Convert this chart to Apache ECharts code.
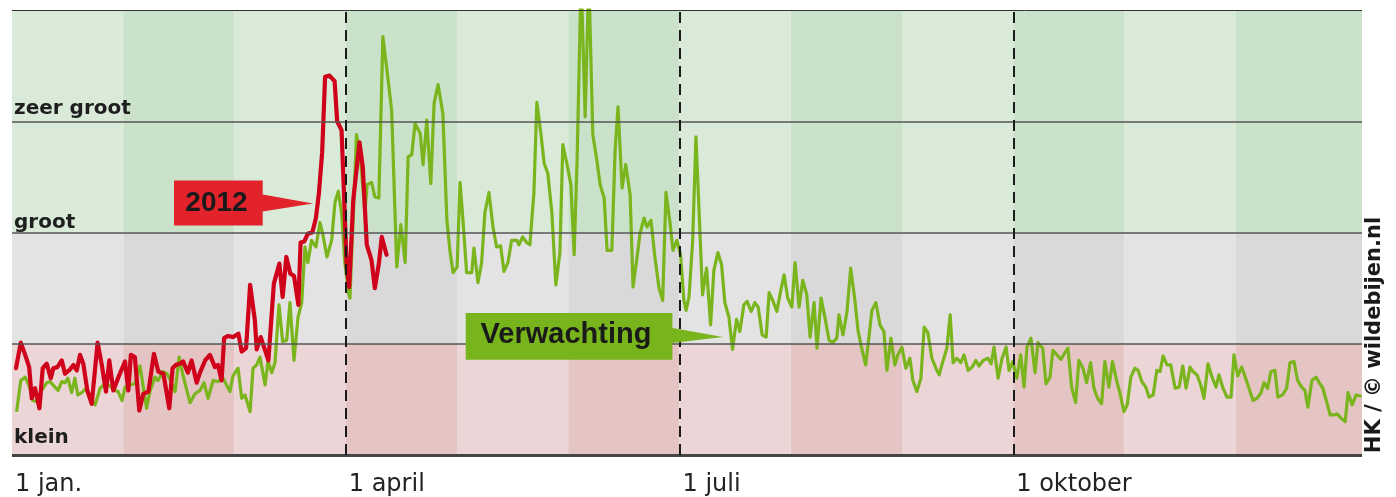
<!DOCTYPE html>
<html><head><meta charset="utf-8">
<script src="https://cdn.jsdelivr.net/npm/echarts@6/dist/echarts.min.js"></script>
<style>html,body{margin:0;padding:0;background:#fff}#c{width:1396px;height:497px}</style>
</head><body><div id="c"></div>
<script>
// ---------- data ----------
const xTickLabels = ['1 jan.', '1 april', '1 juli', '1 oktober'];
const levelLabels = ['klein', '', 'groot', 'zeer groot'];
const seriesNames = ['Verwachting', '2012'];

// Verwachting (expected), day of year -> level (0..4)
const greenDays = [1.3,2.4,3.6,4.6,5.7,6.8,8.1,9.5,10.4,11.2,12.6,13.6,14.5,15.3,16.3,17.2,18.0,19.1,20.2,21.3,22.7,24.1,25.4,26.8,28.2,29.0,30.1,30.9,32.3,33.6,35.0,35.8,36.8,37.7,39.1,39.9,41.3,42.4,43.5,44.6,45.7,46.8,47.8,48.7,50.0,51.4,52.5,53.6,55.0,56.3,57.7,58.8,59.6,60.4,61.8,62.8,63.7,65.1,65.9,66.9,67.8,69.2,70.0,71.0,71.9,73.0,74.0,75.1,76.0,77.1,78.2,79.2,80.1,80.9,81.9,83.1,84.2,85.0,86.1,87.4,88.3,89.2,90.1,91.0,92.0,92.4,94.2,95.3,96.5,97.1,98.3,99.2,100.3,101.4,102.4,103.8,105.2,106.3,107.5,108.3,109.3,110.2,111.6,112.4,113.4,114.5,115.4,116.5,117.8,118.9,119.8,120.6,121.7,122.5,123.3,124.3,125.7,126.3,127.4,128.4,129.3,130.4,131.5,132.5,133.6,134.5,135.6,136.6,138.0,138.6,139.6,140.7,141.6,142.7,143.5,144.6,145.5,146.5,147.6,148.7,149.8,150.6,151.7,152.8,153.7,154.5,155.6,156.7,157.7,158.8,159.9,160.8,161.9,162.7,164.0,164.9,165.7,166.8,167.8,169.0,169.8,170.9,171.7,172.8,173.6,174.7,175.8,176.9,177.9,178.8,179.9,180.7,181.8,182.8,183.7,184.3,185.1,186.1,187.0,188.8,189.9,191.0,191.9,193.0,194.0,194.9,196.0,197.0,198.1,199.0,200.1,201.0,202.1,203.1,204.0,205.1,206.2,207.0,208.1,209.1,210.2,211.1,212.1,213.2,214.1,215.2,216.2,217.3,218.2,219.3,220.1,221.2,222.3,223.4,224.4,225.5,226.1,227.2,228.3,229.3,230.5,231.3,232.3,233.4,234.3,235.1,236.2,237.3,238.4,239.2,240.3,241.4,242.2,243.3,244.4,245.5,246.3,247.4,248.5,249.4,250.4,251.5,252.6,253.5,254.5,255.6,256.5,257.3,258.3,259.4,260.3,261.4,262.5,263.5,264.4,265.5,266.8,267.7,268.5,269.6,270.7,271.8,272.6,273.6,274.7,275.8,276.7,277.5,278.6,279.7,280.5,281.8,282.7,283.8,284.6,285.7,286.8,287.9,288.7,289.7,290.8,291.7,292.8,293.8,294.9,295.8,296.8,297.9,298.8,299.9,300.9,302.0,302.9,304.0,304.9,305.9,307.0,307.9,308.9,310.0,310.9,312.0,313.0,313.9,314.7,315.8,316.8,318.0,319.1,320.1,321.0,322.1,322.9,324.0,325.0,325.9,327.0,328.1,329.2,330.0,331.1,332.2,333.3,334.1,335.1,336.2,337.3,338.2,339.3,340.4,341.5,342.3,343.3,344.2,345.3,346.1,347.4,348.5,349.4,350.5,351.5,352.6,353.5,354.3,355.4,356.5,357.4,358.4,359.5,360.4,361.5,362.3,363.4,364.5,365.3,366.4,367.5,368.6];
const greenVals = [0.40,0.67,0.70,0.63,0.49,0.48,0.58,0.65,0.66,0.63,0.58,0.66,0.65,0.69,0.56,0.69,0.54,0.56,0.60,0.51,0.45,0.60,0.64,0.62,0.58,0.57,0.49,0.61,0.63,0.64,0.80,0.63,0.42,0.57,0.70,0.67,0.75,0.73,0.66,0.57,0.88,0.71,0.58,0.47,0.55,0.58,0.65,0.51,0.67,0.66,0.69,0.62,0.57,0.71,0.78,0.51,0.54,0.39,0.78,0.81,0.88,0.63,0.85,0.74,0.83,1.35,1.02,1.03,1.37,0.85,1.24,1.37,1.87,1.73,1.93,1.87,2.09,1.98,1.78,1.93,2.27,2.37,2.18,1.73,1.46,1.41,2.88,2.65,2.18,2.43,2.45,2.32,2.31,3.76,3.49,3.10,1.69,2.07,1.73,2.68,2.70,2.98,2.89,2.61,3.01,2.44,3.16,3.33,3.07,2.11,1.82,1.64,1.69,2.45,2.11,1.64,1.64,1.86,1.55,1.73,2.18,2.36,2.05,1.87,1.88,1.65,1.73,1.93,1.93,1.89,1.96,1.91,1.89,2.36,3.17,2.89,2.62,2.53,2.18,1.53,1.82,2.79,2.62,2.43,1.80,2.65,4.3,3.04,4.3,2.88,2.65,2.43,2.31,1.84,1.84,2.74,3.13,2.40,2.61,2.34,1.51,1.78,1.99,2.13,2.05,2.11,1.77,1.50,1.39,2.36,2.09,1.84,1.93,1.80,1.39,1.30,1.42,1.93,2.86,1.44,1.68,1.17,1.66,1.82,1.71,1.37,1.24,0.95,1.22,1.11,1.35,1.38,1.29,1.37,1.33,1.08,1.06,1.46,1.38,1.29,1.48,1.62,1.41,1.33,1.73,1.33,1.57,1.44,1.06,1.37,0.96,1.41,1.23,1.03,1.01,1.05,1.26,1.08,1.29,1.68,1.38,1.12,0.96,0.81,1.06,1.30,1.37,1.17,1.11,0.76,1.05,0.81,0.90,0.97,0.78,0.87,0.67,0.57,0.69,1.15,1.10,0.87,0.78,0.72,0.84,0.96,1.26,0.83,0.87,0.83,0.90,0.76,0.79,0.85,0.80,0.85,0.87,0.82,0.97,0.69,0.87,0.97,0.76,0.84,0.69,0.90,0.61,0.97,1.05,0.74,1.01,0.96,0.64,0.70,0.94,0.90,0.86,0.92,0.96,0.61,0.47,0.85,0.78,0.65,0.83,0.60,0.51,0.46,0.84,0.61,0.84,0.67,0.56,0.39,0.45,0.70,0.78,0.76,0.66,0.61,0.52,0.54,0.76,0.75,0.89,0.81,0.81,0.60,0.61,0.80,0.60,0.79,0.75,0.72,0.63,0.51,0.82,0.70,0.61,0.72,0.60,0.52,0.52,0.90,0.71,0.79,0.69,0.60,0.49,0.51,0.56,0.65,0.60,0.75,0.76,0.52,0.54,0.60,0.83,0.84,0.67,0.61,0.58,0.43,0.67,0.70,0.65,0.60,0.47,0.36,0.36,0.37,0.33,0.30,0.56,0.45,0.54,0.53];

// 2012 observations
const redDays = [1.1,2.4,3.6,4.7,5.4,6.3,7.5,8.4,9.5,10.6,11.3,12.4,13.6,14.5,15.9,16.8,17.7,18.6,19.5,20.6,21.8,23.4,24.5,25.7,26.6,27.7,29.1,30.9,31.8,32.5,33.6,34.8,35.9,37.3,38.8,40.0,41.4,43.0,43.9,44.8,45.9,46.8,48.1,49.1,50.5,51.4,52.8,54.1,55.5,56.3,57.3,58.0,59.1,60.5,61.9,62.8,64.0,65.1,66.4,66.9,68.0,69.2,70.1,71.6,73.1,74.0,75.0,76.1,77.1,78.3,78.9,79.9,80.9,82.1,83.1,83.9,84.8,85.6,86.8,88.2,88.9,90.1,90.8,91.5,92.2,93.3,95.0,95.9,97.0,98.3,99.2,100.3,101.1,102.4];
const redVals = [0.78,1.01,0.90,0.79,0.51,0.60,0.42,0.78,0.82,0.69,0.78,0.79,0.85,0.73,0.77,0.81,0.76,0.90,0.82,0.58,0.46,1.01,0.82,0.57,0.85,0.58,0.70,0.84,0.58,0.90,0.88,0.40,0.55,0.57,0.91,0.75,0.73,0.42,0.78,0.81,0.82,0.84,0.74,0.85,0.65,0.74,0.85,0.90,0.79,0.81,0.67,1.05,1.07,1.06,1.09,0.93,0.96,1.53,1.21,0.95,1.06,0.94,0.85,1.54,1.72,1.42,1.78,1.63,1.61,1.35,1.91,1.92,1.99,2.00,2.13,2.35,2.72,3.40,3.41,3.36,3.00,2.92,2.32,1.69,1.51,2.29,2.81,2.59,1.89,1.75,1.50,1.72,1.96,1.80];

// ---------- layout / style ----------
const MONTH = 365 / 12;
const QUARTER = 91.25;
const X_MAX = 369.1;
const bands = [
  {from: 0, to: 1, light: '#ecd5d6', dark: '#e5c4c4'},
  {from: 1, to: 2, light: '#e3e3e3', dark: '#d9d9d9'},
  {from: 2, to: 4, light: '#d9ead8', dark: '#c9e2c9'}
];

const areaData = [];
bands.forEach(b => {
  for (let m = 0; m < 12; m++) {
    const x0 = m * MONTH, x1 = (m === 11) ? X_MAX : (m + 1) * MONTH;
    areaData.push([{xAxis: x0, yAxis: b.from, itemStyle: {color: (m % 2) ? b.dark : b.light}}, {xAxis: x1, yAxis: b.to}]);
  }
});

const labelStyle = {color: '#1e1e1e', fontFamily: 'DejaVu Sans', fontWeight: 'bold', fontSize: 20};
const lineData = [];
const labelDist = [7, 0, 0, 2];
for (let lv = 0; lv <= 4; lv++) {
  const item = {yAxis: lv, lineStyle: {color: lv === 0 ? '#454545' : (lv === 4 ? '#333' : '#555'), width: lv === 0 ? 3 : (lv === 4 ? 1 : 1.5), type: 'solid'}};
  if (lv < 4 && levelLabels[lv]) {
    item.label = Object.assign({show: true, formatter: levelLabels[lv], position: 'insideStartTop', distance: [2, labelDist[lv]]}, labelStyle);
  } else {
    item.label = {show: false};
  }
  lineData.push(item);
}
for (let q = 1; q <= 3; q++) {
  lineData.push({xAxis: q * QUARTER, lineStyle: {color: '#1a1a1a', width: 2, type: [11, 7]}, label: {show: false}});
}

const chart = echarts.init(document.getElementById('c'), null, {renderer: 'canvas'});
chart.setOption({
  animation: false,
  grid: {left: 12, right: 34, top: 10, bottom: 42, containLabel: false, outerBoundsMode: 'none'},
  xAxis: {
    type: 'value', min: 0, max: X_MAX, interval: QUARTER,
    axisLine: {show: false}, axisTick: {show: false}, splitLine: {show: false},
    axisLabel: {
      show: true, showMinLabel: true, showMaxLabel: false,
      formatter: v => xTickLabels[Math.round(v / QUARTER)] || '',
      align: 'left', margin: 18, padding: [0, 0, 0, 3],
      color: '#222', fontFamily: 'DejaVu Sans', fontSize: 24
    }
  },
  yAxis: {
    type: 'value', min: 0, max: 4, interval: 1,
    axisLine: {show: false}, axisTick: {show: false}, splitLine: {show: false}, axisLabel: {show: false}
  },
  series: [
    {
      name: 'bg', type: 'line', z: 1, silent: true, symbol: 'none',
      data: [[0, 0], [X_MAX, 0]], lineStyle: {opacity: 0},
      markArea: {silent: true, data: areaData},
      markLine: {silent: true, symbol: ['none', 'none'], data: lineData}
    },
    {
      name: seriesNames[0], type: 'line', z: 3, symbol: 'none', silent: true,
      data: greenDays.map((d, i) => [d, greenVals[i]]),
      lineStyle: {color: '#7ab51d', width: 3.2, join: 'round', cap: 'round'}
    },
    {
      name: seriesNames[1], type: 'line', z: 4, symbol: 'none', silent: true,
      data: redDays.map((d, i) => [d, redVals[i]]),
      lineStyle: {color: '#d0021b', width: 4.2, join: 'round', cap: 'round'}
    }
  ]
});

// ---------- callouts ----------
function callout(tipDay, tipVal, box, fill, text, size) {
  const p = chart.convertToPixel({gridIndex: 0}, [tipDay, tipVal]);
  const pts = [[box.L, box.T], [box.R, box.T], [box.R, box.a1], [0, 0], [box.R, box.a2], [box.R, box.B], [box.L, box.B]]
    .map(q => [p[0] + q[0], p[1] + q[1]]);
  return [
    {type: 'polygon', z: 50, shape: {points: pts}, style: {fill: fill}},
    {type: 'text', z: 51, x: p[0] + box.tx, y: p[1] + box.ty,
     style: {text: text, fill: '#1a1a1a', font: 'bold ' + size + 'px "Liberation Sans", Arial, sans-serif',
             textAlign: 'center', textVerticalAlign: 'middle', align: 'center', verticalAlign: 'middle'}}
  ];
}
const g = [].concat(
  callout(82.3, 2.26, {L: -139, R: -50.3, T: -23, B: 22, a1: -9, a2: 8, tx: -96.5, ty: 0}, '#e2232b', seriesNames[1], 28),
  callout(194.4, 1.06, {L: -257.3, R: -50.6, T: -24, B: 22.7, a1: -9, a2: 6, tx: -157, ty: -2}, '#78b41c', seriesNames[0], 29),
  [{type: 'text', z: 51, x: 1375, y: 335, rotation: Math.PI / 2,
    style: {text: 'HK / © wildebijen.nl', fill: '#1a1a1a', font: 'bold 21px "DejaVu Sans", sans-serif',
            textAlign: 'center', textVerticalAlign: 'middle', align: 'center', verticalAlign: 'middle'}}]
);
chart.setOption({graphic: g});
</script>
</body></html>
